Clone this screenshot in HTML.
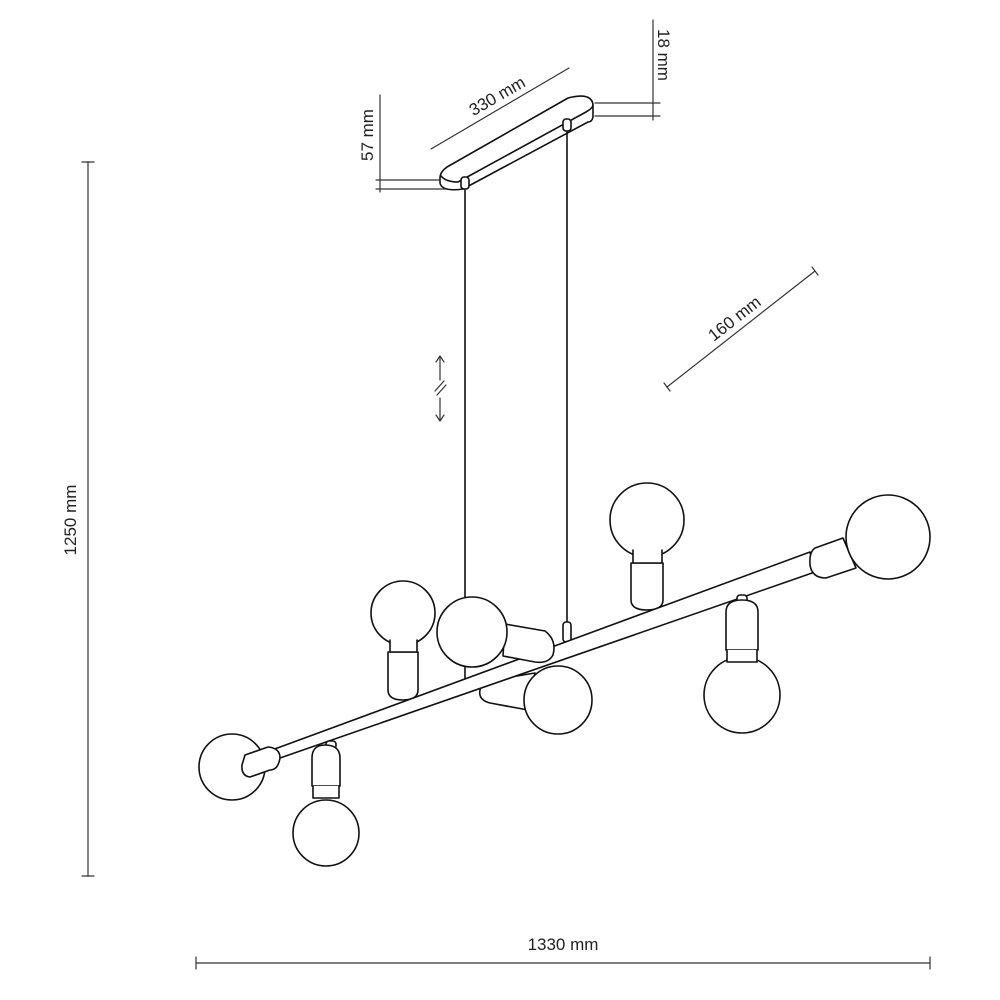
<!DOCTYPE html>
<html><head><meta charset="utf-8"><style>
html,body{margin:0;padding:0;background:#fff;width:1000px;height:1000px;overflow:hidden}
svg{display:block}
text{font-family:"Liberation Sans",sans-serif;font-size:17px;fill:#222;stroke:none}
</style></head><body>
<svg width="1000" height="1000" viewBox="0 0 1000 1000" fill="none" stroke="#111" stroke-width="1.6" stroke-linecap="round" stroke-linejoin="round">
<g stroke="#333" stroke-width="1.2">
<line x1="88" y1="162" x2="88" y2="876"/><line x1="82" y1="162" x2="94" y2="162"/><line x1="82" y1="876" x2="94" y2="876"/>
<line x1="196" y1="963" x2="930" y2="963"/><line x1="196" y1="957" x2="196" y2="969"/><line x1="930" y1="957" x2="930" y2="969"/>
<line x1="667" y1="387" x2="815" y2="271"/><line x1="664" y1="383" x2="670" y2="391"/><line x1="812" y1="267" x2="818" y2="275"/>
<line x1="431" y1="149" x2="569" y2="68"/>
<line x1="380" y1="95" x2="380" y2="192"/><line x1="376" y1="180" x2="440" y2="180"/><line x1="376" y1="189" x2="455" y2="189"/>
<line x1="653" y1="20" x2="653" y2="120"/><line x1="595" y1="103" x2="660" y2="103"/><line x1="595" y1="116" x2="660" y2="116"/>
<line x1="440" y1="357" x2="440" y2="380"/><polyline points="436,362 440,356 444,362"/>
<line x1="440" y1="398" x2="440" y2="421"/><polyline points="436,415 440,421 444,415"/>
<line x1="435" y1="391" x2="444" y2="381"/><line x1="437" y1="395" x2="446" y2="385"/>
</g>
<text transform="translate(76,520) rotate(-90)" text-anchor="middle">1250 mm</text>
<text x="563" y="950" text-anchor="middle">1330 mm</text>
<text transform="translate(738,323) rotate(-38)" text-anchor="middle">160 mm</text>
<text transform="translate(500,101) rotate(-30)" text-anchor="middle">330 mm</text>
<text transform="translate(373,135) rotate(-90)" text-anchor="middle">57 mm</text>
<text transform="translate(658,55) rotate(90)" text-anchor="middle">18 mm</text>
<path d="M447,167 L568,98 Q592,92 593,105 L593,117 Q592,122 588,122 L463,189 Q442,192 440,183 L440,178 Q440,172 447,167 Z" fill="#fff"/>
<path d="M441,176 Q446,182 458,182 L586,112 Q593,108 593,105"/>
<rect x="461" y="177" width="8" height="12" rx="3" fill="#fff"/>
<rect x="563" y="119" width="8" height="12" rx="3" fill="#fff"/>
<line x1="465" y1="190" x2="465" y2="680"/>
<line x1="567" y1="131" x2="567" y2="625"/>
<rect x="563" y="622" width="8" height="20" rx="3" fill="#fff"/>
<g fill="#fff">
<path d="M388,652 L388,690 Q388,700 403,700 Q418,700 418,690 L418,652 Z"/>
<circle cx="403" cy="613" r="32"/>
<path d="M390,640 L390,652 L417,652 L417,640"/>
<path d="M631,563 L631,600 Q631,610 647,610 Q663,610 663,600 L663,563 Z"/>
<circle cx="647" cy="520" r="37"/>
<path d="M633,550 L633,563 L662,563 L662,550"/>
<path d="M492,680 L535,673 L528,710 L490,703 Q478,700 480,690 Q482,682 492,680 Z"/>
<circle cx="558" cy="700" r="34"/>
</g>
<path d="M272,750 L810,552 L815,572 L280,758 Z" fill="#fff"/>
<path d="M272,750 Q264,756 280,758"/>
<g fill="#fff">
<path d="M505,624 L545,631 Q557,640 553,655 Q548,664 535,662 L503,656 Z"/>
<circle cx="472" cy="632" r="35"/>
<circle cx="232" cy="767" r="33"/>
<path d="M245,755 L268,747 Q280,748 280,758 Q278,770 270,770 L250,777 Q241,776 242,765 Z"/>
<rect x="326" y="741" width="10" height="8" rx="3"/>
<path d="M312,786 L312,758 Q312,745 325,745 Q340,745 340,758 L340,786 Z"/>
<circle cx="326" cy="833" r="33"/>
<path d="M313,786 L313,798 L339,798 L339,786"/>
<rect x="737" y="595" width="10" height="8" rx="3"/>
<path d="M726,650 L726,612 Q726,600 742,600 Q758,600 758,612 L758,650 Z"/>
<circle cx="742" cy="695" r="38"/>
<path d="M727,650 L727,662 L757,662 L757,650"/>
<path d="M815,548 L843,538 L856,568 L826,578 Q812,578 810,565 Q809,552 815,548 Z"/>
<circle cx="888" cy="537" r="42"/>
</g>
</svg>
</body></html>
